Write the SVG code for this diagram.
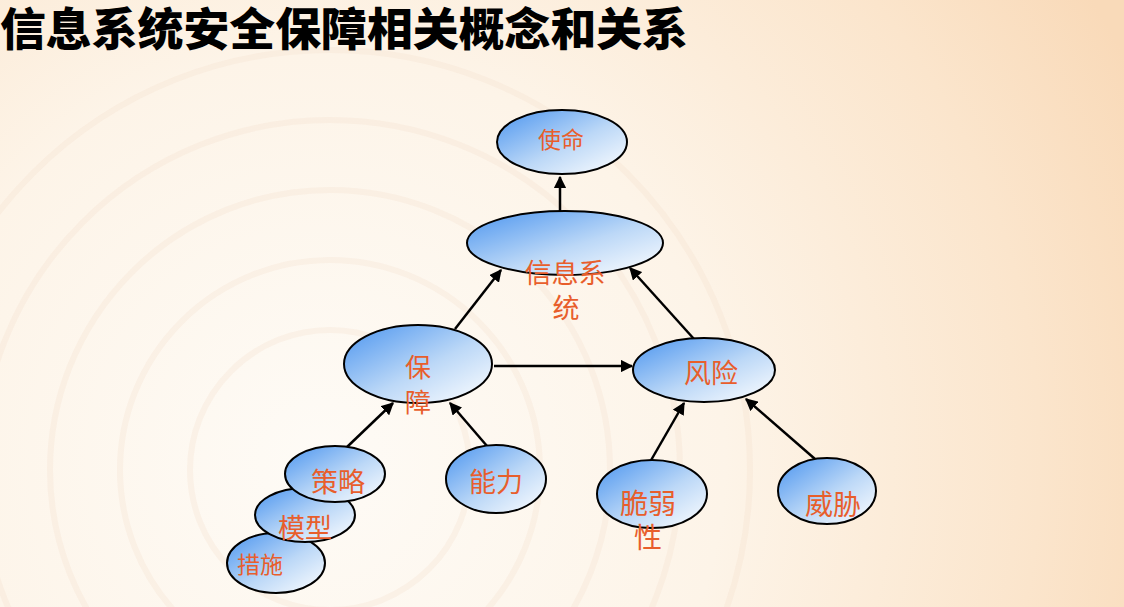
<svg xmlns="http://www.w3.org/2000/svg" width="1124" height="607" viewBox="0 0 1124 607">
<defs>
<radialGradient id="bg" cx="320" cy="460" r="900" gradientUnits="userSpaceOnUse">
<stop offset="0" stop-color="#fefbf6"/>
<stop offset="0.45" stop-color="#fdf4e8"/>
<stop offset="0.8" stop-color="#fbe5cc"/>
<stop offset="1" stop-color="#f9dab9"/>
</radialGradient>
<linearGradient id="nf" x1="0" y1="0" x2="1" y2="1">
<stop offset="0" stop-color="#4a94ef"/>
<stop offset="0.55" stop-color="#bcd8f7"/>
<stop offset="1" stop-color="#ffffff"/>
</linearGradient>
<marker id="ah" viewBox="0 0 10 10" refX="9" refY="5" markerWidth="5" markerHeight="5" orient="auto" markerUnits="strokeWidth">
<path d="M0,0 L10,5 L0,10 z" fill="#000"/>
</marker>
<style>
.n{fill:url(#nf);stroke:#000;stroke-width:2}
.t{font-family:"Noto Sans CJK SC","Noto Sans",sans-serif;fill:#e85e2c;text-anchor:middle}
.c{stroke:#000;stroke-width:2.5;fill:none;marker-end:url(#ah)}
</style>
</defs>
<rect width="1124" height="607" fill="url(#bg)"/>
<g fill="none" stroke="#f2dcc6" stroke-opacity="0.25" stroke-width="6">
<circle cx="330" cy="470" r="140"/>
<circle cx="330" cy="470" r="210"/>
<circle cx="330" cy="470" r="280"/>
<circle cx="330" cy="470" r="350"/>
<circle cx="330" cy="470" r="420"/>
</g>
<text x="0" y="46" font-family="'Noto Sans CJK SC',sans-serif" font-weight="900" font-size="45" textLength="688" lengthAdjust="spacingAndGlyphs" fill="#000">信息系统安全保障相关概念和关系</text>
<g id="connectors">
<line class="c" x1="560" y1="211" x2="560" y2="177"/>
<line class="c" x1="455" y1="329" x2="501" y2="270"/>
<line class="c" x1="694" y1="339" x2="630" y2="268"/>
<line class="c" x1="494" y1="366" x2="632" y2="366"/>
<line class="c" x1="347" y1="447" x2="393" y2="403"/>
<line class="c" x1="487" y1="446" x2="450" y2="403"/>
<line class="c" x1="650" y1="462" x2="684" y2="403"/>
<line class="c" x1="815" y1="459" x2="746" y2="399"/>
</g>
<g id="shiming"><ellipse class="n" cx="562" cy="142" rx="65" ry="32"/><text class="t" x="561" y="148" font-size="23">使命</text></g>
<g id="xinxixitong"><ellipse class="n" cx="565" cy="243" rx="98" ry="32"/><text class="t" font-size="27"><tspan x="565" y="283">信息系</tspan><tspan x="566" y="318">统</tspan></text></g>
<g id="baozhang"><ellipse class="n" cx="418" cy="364" rx="74" ry="39"/><text class="t" font-size="26"><tspan x="418" y="377">保</tspan><tspan x="418" y="412">障</tspan></text></g>
<g id="fengxian"><ellipse class="n" cx="704" cy="370" rx="71" ry="32"/><text class="t" x="711" y="383" font-size="27">风险</text></g>
<g id="cuoshi"><ellipse class="n" cx="276" cy="563" rx="49" ry="30"/><text class="t" x="260" y="573" font-size="23">措施</text></g>
<g id="moxing"><ellipse class="n" cx="305" cy="515" rx="50" ry="27"/><text class="t" x="305" y="538" font-size="27">模型</text></g>
<g id="celue"><ellipse class="n" cx="335" cy="474" rx="50" ry="28"/><text class="t" x="338" y="492" font-size="27">策略</text></g>
<g id="nengli"><ellipse class="n" cx="496" cy="479" rx="50" ry="34"/><text class="t" x="496" y="492" font-size="27">能力</text></g>
<g id="cuiruoxing"><ellipse class="n" cx="652" cy="494" rx="55" ry="34"/><text class="t" font-size="28"><tspan x="648" y="514">脆弱</tspan><tspan x="648" y="548">性</tspan></text></g>
<g id="weixie"><ellipse class="n" cx="827" cy="491" rx="49" ry="33"/><text class="t" x="833" y="515" font-size="28">威胁</text></g>
</svg>
